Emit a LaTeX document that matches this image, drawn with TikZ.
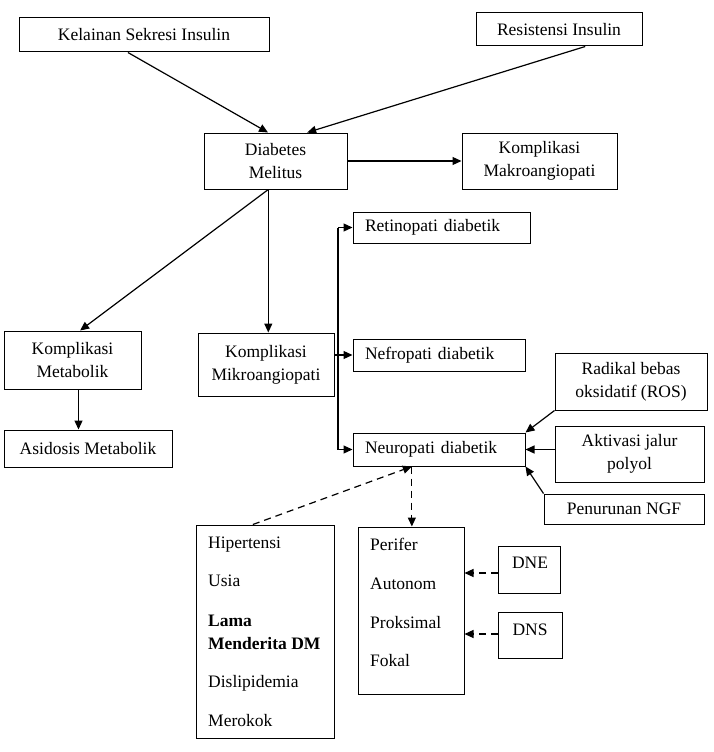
\documentclass[tikz,border=0pt]{standalone}
\usepackage{fontspec}
\setmainfont{Liberation Serif}
\usetikzlibrary{arrows.meta,calc}
\tikzset{
  box/.style={draw, line width=1pt, inner sep=0pt, align=center, font=\fontsize{17.5}{23}\selectfont},
  lbox/.style={draw, line width=1pt, inner ysep=0pt, inner xsep=12pt, align=left, font=\fontsize{17.5}{23}\selectfont},
  txt/.style={inner sep=0pt, anchor=base west, font=\fontsize{17.5}{23}\selectfont},
  arr/.style={line width=1.2pt, -{Triangle[length=9pt,width=8pt]}},
  darr/.style={line width=1.2pt, dash pattern=on 7pt off 5pt, -{Triangle[length=9pt,width=8pt]}}
}
\begin{document}
\begin{tikzpicture}[x=1pt,y=-1pt]
\useasboundingbox (0,0) rectangle (713,752);
% top row
\node[box, minimum width=250pt, minimum height=34pt] (kel) at (144,35) {Kelainan Sekresi Insulin};
\node[box, minimum width=166pt, minimum height=33pt] (res) at (559,29.5) {Resistensi Insulin};
\node[box, minimum width=143pt, minimum height=56pt] (dm) at (275.5,161) {Diabetes\\Melitus};
\node[box, minimum width=155pt, minimum height=56pt] (mak) at (539.5,161) {Komplikasi\\Makroangiopati};
% middle
\node[box, minimum width=137pt, minimum height=58pt] (met) at (72.5,360) {Komplikasi\\Metabolik};
\node[box, minimum width=168pt, minimum height=37pt] (asi) at (88,448.5) {Asidosis Metabolik};
\node[box, minimum width=136pt, minimum height=63pt] (mik) at (266,364.5) {Komplikasi\\Mikroangiopati};
\node[lbox, text width=153pt, minimum height=31pt] (ret) at (441.5,227.5) {Retinopati diabetik};
\node[lbox, text width=148pt, minimum height=32pt] (nef) at (439,355) {Nefropati diabetik};
\node[lbox, text width=148pt, minimum height=33pt] (neu) at (439,449.5) {Neuropati diabetik};
\node[box, minimum width=152pt, minimum height=57pt] (rad) at (631,381.5) {Radikal bebas\\oksidatif (ROS)};
\node[box, minimum width=149pt, minimum height=56pt] (akt) at (629.5,454) {Aktivasi jalur\\polyol};
\node[box, minimum width=160pt, minimum height=30pt] (ngf) at (624,509) {Penurunan NGF};
% bottom boxes
\node[draw, line width=1pt, minimum width=138pt, minimum height=213pt, inner sep=0pt] (risk) at (265,631.5) {};
\node[txt] (r1) at (208,548) {Hipertensi};
\node[txt] (r2) at (208,586) {Usia};
\node[txt] (r3) at (208,626) {\bfseries Lama};
\node[txt] (r4) at (208,649) {\bfseries Menderita DM};
\node[txt] (r5) at (208,687) {Dislipidemia};
\node[txt] (r6) at (208,726) {Merokok};
\node[draw, line width=1pt, minimum width=106pt, minimum height=167pt, inner sep=0pt] (typ) at (411,610.5) {};
\node[txt] (t1) at (370,550) {Perifer};
\node[txt] (t2) at (370,589) {Autonom};
\node[txt] (t3) at (370,628) {Proksimal};
\node[txt] (t4) at (370,666) {Fokal};
\node[draw, line width=1pt, minimum width=62pt, minimum height=47pt, inner sep=0pt] (dne) at (529.5,569.5) {};
\node[inner sep=0pt, anchor=base, font=\fontsize{17.5}{23}\selectfont] (dnet) at (530,568) {DNE};
\node[draw, line width=1pt, minimum width=64pt, minimum height=46pt, inner sep=0pt] (dns) at (530,635) {};
\node[inner sep=0pt, anchor=base, font=\fontsize{17.5}{23}\selectfont] (dnst) at (530,635) {DNS};
% connectors
\draw[arr] ($(kel.south west)!0.436!(kel.south east)$) -- ($(dm.north west)!0.448!(dm.north east)$);
\draw[arr] ($(res.south west)!0.657!(res.south east)$) -- ($(dm.north west)!0.72!(dm.north east)$);
\draw[arr] (dm.east) -- (mak.west);
\coordinate (dmo) at ($(dm.south west)!0.45!(dm.south east)$);
\draw[arr] (dmo) -- ($(met.north west)!0.555!(met.north east)$);
\draw[arr] (dmo) -- (dmo |- mik.north);
\coordinate (meto) at ($(met.south west)+(75,0)$);
\draw[arr] (meto) -- (meto |- asi.north);
\coordinate (br) at (338,0);
\draw[line width=1.2pt] (br |- ret.west) -- (br |- neu.west);
\draw[line width=1.2pt] (mik.east |- nef.west) -- (br |- nef.west);
\draw[arr] (br |- ret.west) -- (ret.west);
\draw[arr] (br |- nef.west) -- (nef.west);
\draw[arr] (br |- neu.west) -- (neu.west);
\draw[arr] (rad.south west) -- (neu.north east);
\draw[arr] (akt.west |- neu.east) -- (neu.east);
\draw[arr] (ngf.north west) -- (neu.south east);
\coordinate (neub) at ($(neu.south west)!0.343!(neu.south east)$);
\draw[darr] ($(risk.north west)!0.413!(risk.north east)$) -- (neub);
\draw[darr] (neub) -- (neub |- typ.north);
\draw[darr] (dne.west |- 0,573) -- (typ.east |- 0,573);
\draw[darr] (dns.west |- 0,634) -- (typ.east |- 0,634);
\end{tikzpicture}
\end{document}
